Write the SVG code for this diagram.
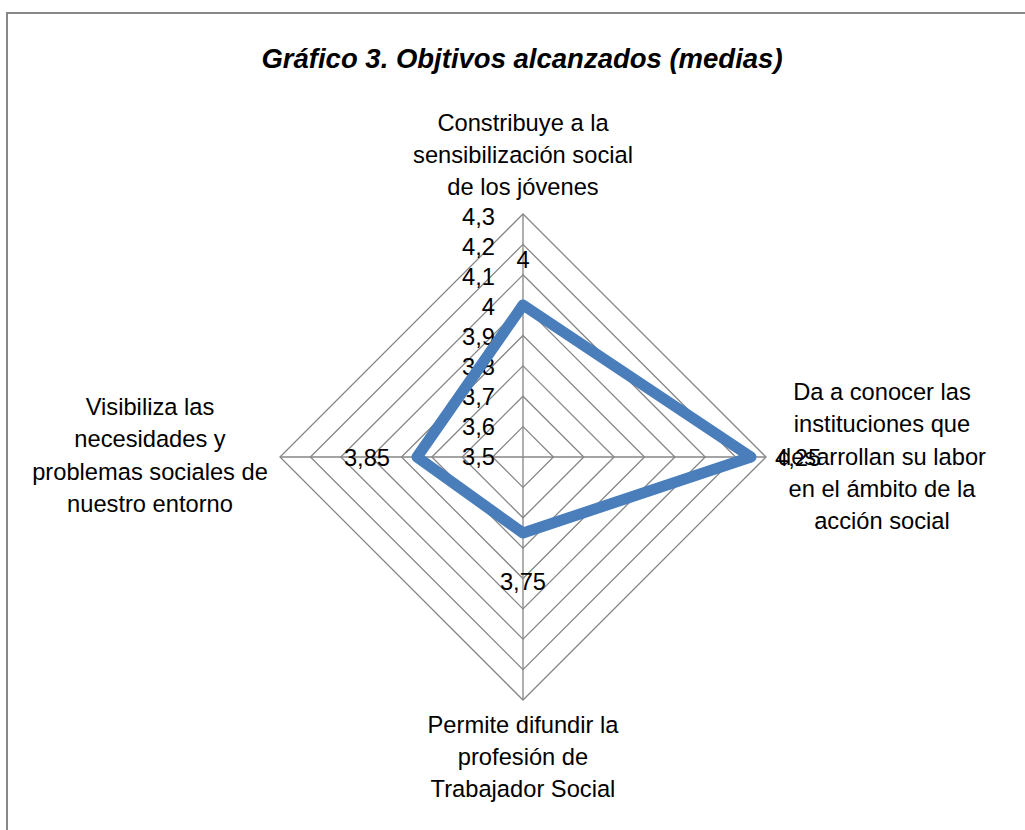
<svg xmlns="http://www.w3.org/2000/svg" width="1025" height="830" viewBox="0 0 1025 830">
<style>
text{font-family:"Liberation Sans",Arial,sans-serif;font-size:23.7px;fill:#000}
.title{font-size:27.5px;font-weight:bold;font-style:italic}
.grid{fill:none;stroke:#868686;stroke-width:1.3}
.mid{text-anchor:middle}
.end{text-anchor:end}
.series{fill:none;stroke:#4a7ebb;stroke-width:11;stroke-linejoin:round}
</style>
<rect width="1025" height="830" fill="#fff"/>
<path d="M7 830 V13 H1025" fill="none" stroke="#888" stroke-width="2"/>
<text class="title mid" x="522" y="68">Gráfico 3. Objtivos alcanzados (medias)</text>
<g id="grid">
<polygon class="grid" points="523,426.6 553.4,457 523,487.4 492.6,457"/>
<polygon class="grid" points="523,396.2 583.8,457 523,517.8 462.2,457"/>
<polygon class="grid" points="523,365.9 614.1,457 523,548.1 431.9,457"/>
<polygon class="grid" points="523,335.5 644.5,457 523,578.5 401.5,457"/>
<polygon class="grid" points="523,305.1 674.9,457 523,608.9 371.1,457"/>
<polygon class="grid" points="523,274.8 705.2,457 523,639.2 340.8,457"/>
<polygon class="grid" points="523,244.4 735.6,457 523,669.6 310.4,457"/>
<polygon class="grid" points="523,214 766,457 523,700 280,457"/>
<path class="grid" d="M523 457 V214 M523 457 H766 M523 457 V700 M523 457 H280"/>
</g>
<g id="axis-labels">
<text class="end" x="495" y="465">3,5</text>
<text class="end" x="495" y="435">3,6</text>
<text class="end" x="495" y="405">3,7</text>
<text class="end" x="495" y="375">3,8</text>
<text class="end" x="495" y="345">3,9</text>
<text class="end" x="495" y="315">4</text>
<text class="end" x="495" y="285">4,1</text>
<text class="end" x="495" y="255">4,2</text>
<text class="end" x="495" y="225">4,3</text>
</g>
<g id="connectors">
<polygon id="serie" class="series" points="523,305 751,457 523,533 417,457"/>
</g>
<g id="data-labels">
<text class="mid" x="523" y="268">4</text>
<text x="775" y="466">4,25</text>
<text class="mid" x="523" y="590">3,75</text>
<text class="mid" x="367" y="466">3,85</text>
</g>
<g id="node-top">
<text class="mid" x="523" y="131">Constribuye a la</text>
<text class="mid" x="523" y="163">sensibilización social</text>
<text class="mid" x="523" y="195">de los jóvenes</text>
</g>
<g id="node-right">
<text class="mid" x="882" y="400">Da a conocer las</text>
<text class="mid" x="882" y="432">instituciones que</text>
<text class="mid" x="882" y="465">desarrollan su labor</text>
<text class="mid" x="882" y="497">en el ámbito de la</text>
<text class="mid" x="882" y="529">acción social</text>
</g>
<g id="node-bottom">
<text class="mid" x="523" y="733">Permite difundir la</text>
<text class="mid" x="523" y="765">profesión de</text>
<text class="mid" x="523" y="797">Trabajador Social</text>
</g>
<g id="node-left">
<text class="mid" x="150" y="415">Visibiliza las</text>
<text class="mid" x="150" y="447">necesidades y</text>
<text class="mid" x="150" y="480">problemas sociales de</text>
<text class="mid" x="150" y="512">nuestro entorno</text>
</g>
</svg>
